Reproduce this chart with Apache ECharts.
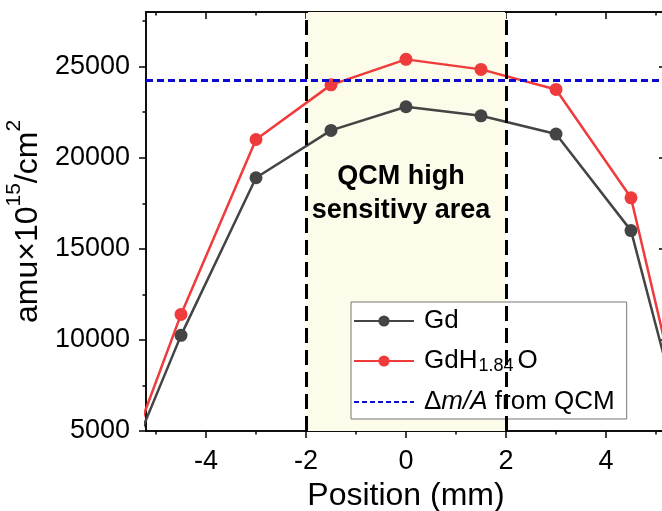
<!DOCTYPE html>
<html><head><meta charset="utf-8">
<script src="https://cdn.jsdelivr.net/npm/echarts@6/dist/echarts.min.js"></script>
<style>html,body{margin:0;padding:0;background:#fff}#c{width:662px;height:511px}</style>
</head><body><div id="c"></div>
<script>
const positions = [-6, -4.5, -3, -1.5, 0, 1.5, 3, 4.5, 6];
const gd = [300, 10250, 18900, 21500, 22800, 22300, 21300, 16000, 300];
const gdh = [300, 11400, 21000, 24000, 25400, 24850, 23750, 17800, 200];
const qcmValue = 24270;
const areaRange = [-2, 2];
const xMajor = [-4, -2, 0, 2, 4];
const xMinor = [-5, -3, -1, 1, 3, 5];
const yMajor = [5000, 10000, 15000, 20000, 25000];
const yMinor = [7500, 12500, 17500, 22500, 27500];
const xRange = [-5.2, 5.2];
const yRange = [5000, 28000];

const F = 'Liberation Sans, Arial, sans-serif';
const chart = echarts.init(document.getElementById('c'), null, {renderer: 'canvas'});

function xAx(pos, ticks, len, inside, labels) {
  return {
    type: 'value', position: pos, min: xRange[0], max: xRange[1],
    axisLine: {show: true, onZero: false, lineStyle: {color: '#000', width: 1.5}},
    axisTick: {show: true, inside: inside, length: len, customValues: ticks, lineStyle: {color: '#000', width: 1.5}},
    axisLabel: labels ? {show: true, customValues: ticks, fontSize: 27, fontFamily: F, color: '#000', margin: 17,
      formatter: v => (v < 0 ? '-' + Math.abs(v) : String(v))} : {show: false},
    splitLine: {show: false}
  };
}
function yAx(pos, ticks, len, inside, labels) {
  return {
    type: 'value', position: pos, min: yRange[0], max: yRange[1],
    axisLine: {show: true, onZero: false, lineStyle: {color: '#000', width: 1.5}},
    axisTick: {show: true, inside: inside, length: len, customValues: ticks, lineStyle: {color: '#000', width: 1.5}},
    axisLabel: labels ? {show: true, customValues: ticks, fontSize: 27, fontFamily: F, color: '#000', margin: 16,
      formatter: v => String(v)} : {show: false},
    splitLine: {show: false}
  };
}

const xAxes = [xAx('bottom', xMajor, 7, false, true), xAx('bottom', xMinor, 3.5, false, false),
               xAx('top', xMajor, 7, true, false), xAx('top', xMinor, 3.5, true, false)];
xAxes[0].name = 'Position (mm)';
xAxes[0].nameLocation = 'middle';
xAxes[0].nameGap = 48;
xAxes[0].nameTextStyle = {fontSize: 32, fontFamily: F, color: '#000'};

const yAxes = [yAx('left', yMajor, 7, false, true), yAx('left', yMinor, 3.5, false, false),
               yAx('right', yMajor, 7, true, false), yAx('right', yMinor, 3.5, true, false)];
yAxes[0].name = '{a|amu×10}{s|15}{a|/cm}{s|2}';
yAxes[0].nameLocation = 'middle';
yAxes[0].nameRotate = 90;
yAxes[0].nameGap = 100;
yAxes[0].nameTextStyle = {fontFamily: F, color: '#000', rich: {
  a: {fontSize: 32, fontFamily: F, color: '#000', lineHeight: 40, verticalAlign: 'bottom'},
  s: {fontSize: 21, fontFamily: F, color: '#000', lineHeight: 40, verticalAlign: 'top'}
}};

const toPairs = (xs, ys) => xs.map((x, i) => [x, ys[i]]);

chart.setOption({
  animation: false,
  backgroundColor: '#fff',
  grid: {left: 146, top: 12, width: 520, height: 419, containLabel: false, outerBoundsMode: 'none'},
  xAxis: xAxes,
  yAxis: yAxes,
  legend: {
    orient: 'vertical', left: 351, top: 302,
    backgroundColor: '#fff', borderColor: '#777', borderWidth: 1, borderRadius: 0,
    padding: [6, 12, 4, 2], itemWidth: 60, itemHeight: 14, itemGap: 14,
    textStyle: {fontSize: 26, fontFamily: F, color: '#000', padding: [0, 0, 0, 5], rich: {
      a: {fontSize: 26, fontFamily: F, color: '#000'},
      i: {fontSize: 26, fontFamily: F, color: '#000', fontStyle: 'italic'},
      sub: {fontSize: 18, fontFamily: F, color: '#000', verticalAlign: 'bottom', padding: [10, 4, 0, 1]}
    }},
    formatter: function (name) {
      if (name === 'GdH1.84O') return '{a|GdH}{sub|1.84}{a|O}';
      if (name === 'qcm') return '{a|Δ}{i|m/A}{a| from QCM}';
      return '{a|' + name + '}';
    },
    data: ['Gd', 'GdH1.84O', {name: 'qcm', itemStyle: {opacity: 0}}]
  },
  series: [
    {
      name: 'qcm', type: 'line', data: [], symbol: 'none',
      itemStyle: {color: '#0b0bd0'},
      lineStyle: {color: '#0b0bd0', width: 2, type: [5, 3]},
      markArea: {
        silent: true,
        itemStyle: {color: '#fdfbe9'},
        label: {show: true, position: 'insideTop', distance: 148, offset: [-5, 0], formatter: 'QCM high\nsensitivy area',
          fontSize: 27, fontWeight: 'bold', fontFamily: F, color: '#000', lineHeight: 34, align: 'center'},
        data: [[{xAxis: areaRange[0]}, {xAxis: areaRange[1]}]]
      },
      markLine: {
        silent: true, symbol: 'none', label: {show: false},
        data: [
          {yAxis: qcmValue, lineStyle: {color: '#0b0bd0', width: 3, type: [7, 4]}},
          {xAxis: areaRange[0], lineStyle: {color: '#000', width: 3, type: [15, 7]}},
          {xAxis: areaRange[1], lineStyle: {color: '#000', width: 3, type: [15, 7]}}
        ]
      }
    },
    {
      name: 'Gd', type: 'line', data: toPairs(positions, gd), symbol: 'circle', symbolSize: 13,
      itemStyle: {color: '#444444'}, lineStyle: {color: '#444444', width: 2.5}, z: 3
    },
    {
      name: 'GdH1.84O', type: 'line', data: toPairs(positions, gdh), symbol: 'circle', symbolSize: 13,
      itemStyle: {color: '#ef3b3b'}, lineStyle: {color: '#ef3b3b', width: 2.5}, z: 4
    }
  ]
});
</script></body></html>
